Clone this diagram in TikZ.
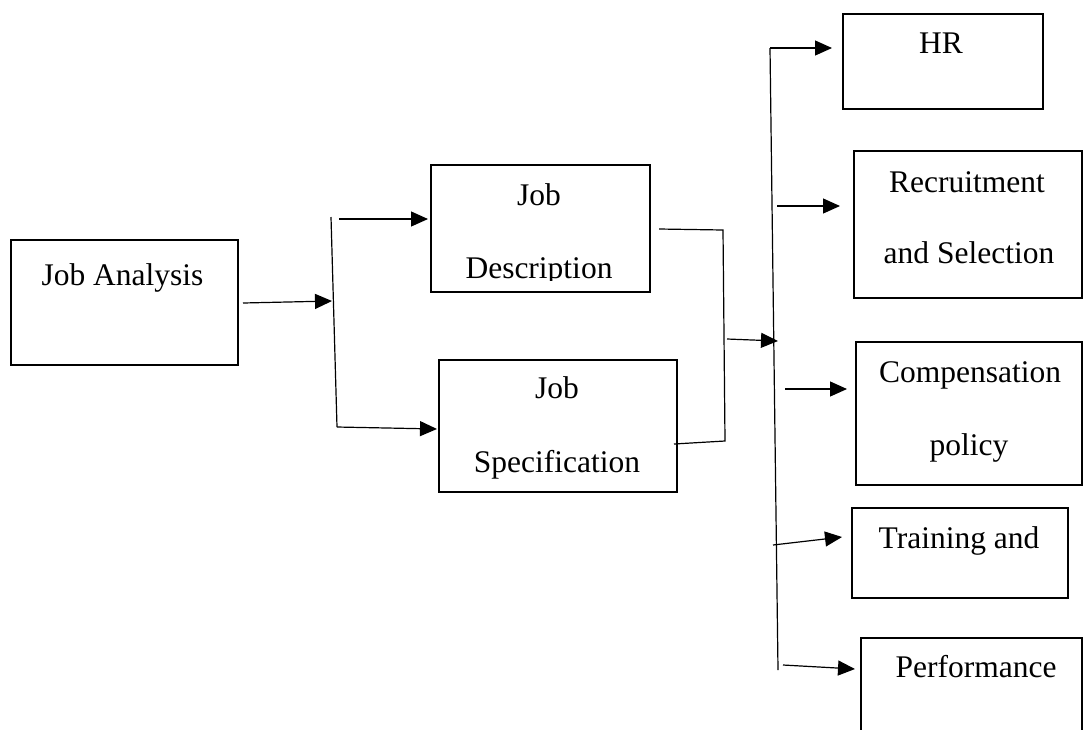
\documentclass[tikz,border=0pt]{standalone}
\usepackage{fontspec}
\setmainfont{Liberation Serif}
\usetikzlibrary{arrows.meta}

\tikzset{
  box/.style={draw, line width=2pt, anchor=north west, inner sep=0pt},
  txt/.style={anchor=base, inner sep=0pt, font=\fontsize{31.5}{38}\selectfont},
  link/.style={line width=1.2pt},
  arr/.style={line width=1.2pt, -{Triangle[length=17pt, width=15pt]}}
}

\begin{document}
\begin{tikzpicture}[x=1pt, y=-1pt]
  \useasboundingbox (0, 0) rectangle (1083, 729);
  \clip (0, 0) rectangle (1083, 729);
  \fill[white] (0, 0) rectangle (1083, 729);

  \node[box, minimum width=227, minimum height=125] (analysis) at (10, 239) {};
  \node[box, minimum width=219, minimum height=127] (description) at (430, 164) {};
  \node[box, minimum width=238, minimum height=132] (specification) at (438, 359) {};
  \node[box, minimum width=200, minimum height=95] (hr) at (842, 13) {};
  \node[box, minimum width=228, minimum height=147] (recruitment) at (853, 150) {};
  \node[box, minimum width=226, minimum height=143] (compensation) at (855, 341) {};
  \node[box, minimum width=216, minimum height=90] (training) at (851, 507) {};
  \node[box, minimum width=221, minimum height=130] (performance) at (860, 637) {};

  \node[txt] (analysis text) at (122.5, 285) {Job Analysis};
  \node[txt] (description job) at (539, 205) {Job};
  \begin{scope}
    \clip (430, 150) rectangle (649, 280);
    \node[txt] (description text) at (539, 278) {Description};
  \end{scope}
  \node[txt] (specification job) at (557, 398) {Job};
  \node[txt] (specification text) at (557, 472) {Specification};
  \node[txt] (hr text) at (941, 53) {HR};
  \node[txt] (recruitment text) at (967, 192) {Recruitment};
  \node[txt] (selection text) at (969, 263) {and Selection};
  \node[txt] (compensation text) at (970, 382) {Compensation};
  \node[txt] (policy text) at (969, 455) {policy};
  \node[txt] (training text) at (959, 548) {Training and};
  \node[txt] (performance text) at (976, 677) {Performance};

  % first split
  \coordinate (split top) at (331, 217);
  \coordinate (split bottom) at (337, 427);
  \coordinate (split in) at (332, 301);
  \draw[arr] ([xshift=4]analysis.east |- 0, 303) -- (split in);
  \draw[link] (split top) -- (split bottom);
  \draw[arr] (339, 219) -- ([xshift=-2]description.west |- 0, 219);
  \draw[arr] (split bottom) -- ([xshift=-1]specification.west |- 0, 429);

  % joining bracket
  \coordinate (join top) at (723, 230);
  \coordinate (join bottom) at (725, 441);
  \draw[link] ([xshift=8]description.east |- 0, 229) -- (join top) -- (join bottom)
    -- ([xshift=-4]specification.east |- 0, 444);

  % main bar
  \coordinate (bar top) at (770, 48);
  \coordinate (bar bottom) at (778, 670);
  \draw[link] (bar top) -- (bar bottom);
  \draw[arr] (727, 339) -- (778, 341);

  \draw[arr] (bar top) -- ([xshift=-10]hr.west |- 0, 48);
  \draw[arr] (777, 206) -- ([xshift=-13]recruitment.west |- 0, 206);
  \draw[arr] (785, 389) -- ([xshift=-8]compensation.west |- 0, 389);
  \draw[arr] (773, 545) -- ([xshift=-9]training.west |- 0, 537);
  \draw[arr] (783, 665) -- ([xshift=-5]performance.west |- 0, 669);
\end{tikzpicture}
\end{document}
